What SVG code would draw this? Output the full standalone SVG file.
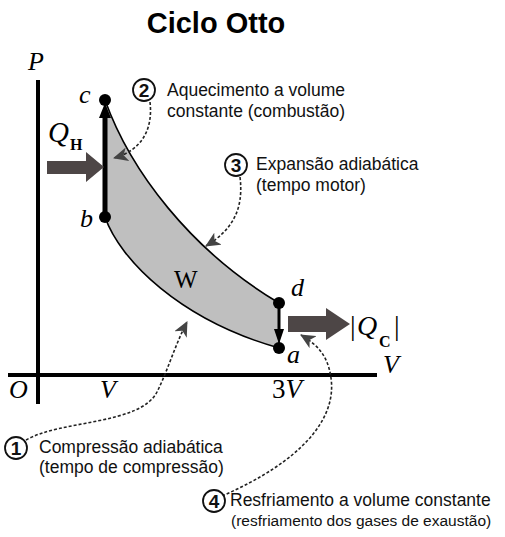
<svg xmlns="http://www.w3.org/2000/svg" width="505" height="537" viewBox="0 0 505 537">
<style>
.title{font-family:"Liberation Sans",Arial,sans-serif;font-weight:bold;font-size:29px;fill:#000}
.ann{font-family:"Liberation Sans",Arial,sans-serif;font-size:17.5px;fill:#111}
.ann2{font-family:"Liberation Sans",Arial,sans-serif;font-size:15.5px;fill:#111}
.num{font-family:"Liberation Sans",Arial,sans-serif;font-weight:bold;font-size:19px;fill:#111;text-anchor:middle}
.math{font-family:"Liberation Serif","Times New Roman",serif;font-style:italic;fill:#000}
.up{font-family:"Liberation Serif","Times New Roman",serif;font-style:normal;fill:#000}
.sub{font-family:"Liberation Serif","Times New Roman",serif;font-weight:bold;fill:#000}
.circ{fill:#fff;stroke:#111;stroke-width:1.8}
.dash{fill:none;stroke:#222;stroke-width:1.6;stroke-dasharray:3 2}
.heat{fill:#4d4646}
.pt{fill:#000}
</style>
<defs>
<marker id="dh" markerUnits="userSpaceOnUse" markerWidth="18" markerHeight="14" refX="14" refY="7" orient="auto">
<path d="M0,0 L15,7 L0,14 L4,7 Z" fill="#444"/>
</marker>
</defs>

<text class="title" x="216" y="33" text-anchor="middle">Ciclo Otto</text>

<g id="axes">
<line x1="38" y1="80" x2="38" y2="404" stroke="#000" stroke-width="4"/>
<line x1="8" y1="375" x2="377" y2="375" stroke="#000" stroke-width="4"/>
<text class="math" x="28" y="70" font-size="26">P</text>
<text class="math" x="383" y="373" font-size="26">V</text>
<text class="math" x="9" y="398" font-size="26">O</text>
<text class="math" x="100" y="398" font-size="26">V</text>
<text class="up" x="272" y="398" font-size="27">3<tspan class="math">V</tspan></text>
</g>

<g id="cycle">
<path d="M105,100 C130,170 190,250 279,303 L279,348 C180,320 120,260 105,217 Z" fill="#bfbfbf" stroke="#000" stroke-width="1.6"/>
<text class="up" x="174" y="288" font-size="25">W</text>
</g>

<g id="connectors">
<line x1="105" y1="217" x2="105" y2="114" stroke="#000" stroke-width="5"/>
<polygon points="99,118 105,103 111,118" fill="#000"/>
<line x1="279" y1="303" x2="279" y2="332" stroke="#000" stroke-width="3"/>
<polygon points="274,329 279,344 284,329" fill="#000"/>
<path class="dash" d="M150,102 C153,128 143,150 114,158" marker-end="url(#dh)"/>
<path class="dash" d="M240,177 C244,210 232,230 206,246" marker-end="url(#dh)"/>
<path class="dash" d="M26,440 C60,420 140,425 157,392 C168,370 175,345 187,322" marker-end="url(#dh)"/>
<path class="dash" d="M222,496 C300,462 337,420 331,378 C328,356 318,345 301,335" marker-end="url(#dh)"/>
</g>

<g id="node-c">
<circle class="pt" cx="105" cy="100" r="6"/>
<text class="math" x="79" y="103" font-size="26">c</text>
</g>
<g id="node-b">
<circle class="pt" cx="105" cy="217" r="6"/>
<text class="math" x="80" y="227" font-size="26">b</text>
</g>
<g id="node-d">
<circle class="pt" cx="279" cy="303" r="6"/>
<text class="math" x="291" y="296" font-size="26">d</text>
</g>
<g id="node-a">
<circle class="pt" cx="279" cy="348" r="6"/>
<text class="math" x="287" y="363" font-size="26">a</text>
</g>

<g id="heat-in">
<polygon class="heat" points="47,161 86,161 86,152 104,167 86,182 86,174 47,174"/>
<text class="math" x="48" y="142" font-size="29">Q</text>
<text class="sub" x="70" y="150" font-size="16">H</text>
</g>

<g id="heat-out">
<polygon class="heat" points="288,316 326,316 326,308 350,324 326,340 326,332 288,332"/>
<text class="up" x="350" y="335" font-size="28">|</text>
<text class="math" x="357" y="335" font-size="28">Q</text>
<text class="sub" x="379" y="347" font-size="16">C</text>
<text class="up" x="394" y="335" font-size="28">|</text>
</g>

<g id="label-2">
<circle class="circ" cx="144" cy="90" r="11"/>
<text class="num" x="144" y="97">2</text>
<text class="ann" x="167" y="96">Aquecimento a volume</text>
<text class="ann" x="167" y="117">constante (combustão)</text>
</g>
<g id="label-3">
<circle class="circ" cx="236" cy="165" r="11"/>
<text class="num" x="236" y="172">3</text>
<text class="ann" x="256" y="170">Expansão adiabática</text>
<text class="ann" x="256" y="191">(tempo motor)</text>
</g>
<g id="label-1">
<circle class="circ" cx="16" cy="448" r="11"/>
<text class="num" x="16" y="455">1</text>
<text class="ann" x="39" y="453">Compressão adiabática</text>
<text class="ann" x="39" y="473">(tempo de compressão)</text>
</g>
<g id="label-4">
<circle class="circ" cx="214" cy="501" r="11"/>
<text class="num" x="214" y="508">4</text>
<text class="ann" x="230" y="506">Resfriamento a volume constante</text>
<text class="ann2" x="231" y="526">(resfriamento dos gases de exaustão)</text>
</g>
</svg>
